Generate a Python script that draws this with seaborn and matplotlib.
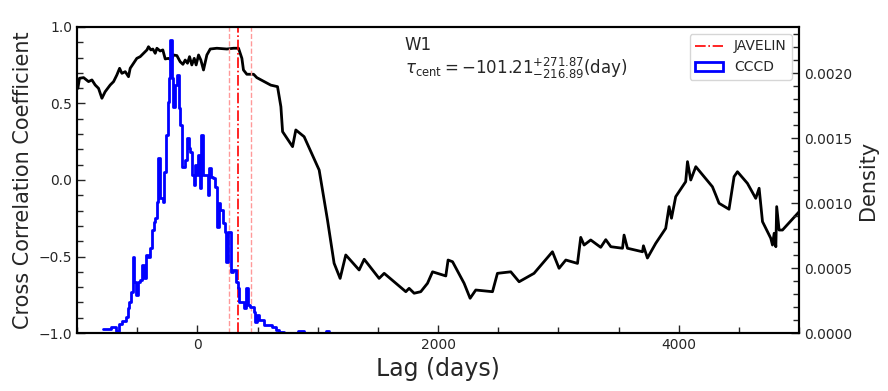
import numpy as np
import seaborn as sns
import matplotlib
matplotlib.use("Agg")
import matplotlib.pyplot as plt
from matplotlib.lines import Line2D
from matplotlib.patches import Patch
from matplotlib.ticker import MultipleLocator

# CCF curve (lag in days, correlation coefficient)
lag = [-1000, -993, -979, -945, -904, -876, -849, -821, -793, -766,
       -724, -696, -669, -646, -627, -599, -572, -558, -530, -503,
       -475, -447, -419, -406, -386, -370, -350, -336, -309, -287,
       -267, -239, -217, -198, -170, -143, -120, -101, -82, -65,
       -46, -26, -10, 10, 29, 51, 79, 107, 162, 245,
       300, 342, 370, 383, 411, 467, 494,
       610, 666, 694,
       708, 791, 818, 887, 1012, 1081, 1136, 1186, 1233, 1344,
       1386, 1510, 1552, 1732, 1759, 1801, 1856, 1912, 1954, 2064,
       2083, 2120, 2216, 2266, 2313, 2452, 2493, 2604, 2673, 2797,
       2950, 3005, 3061, 3158, 3185, 3213, 3268, 3351, 3393, 3435,
       3532, 3545, 3573, 3698, 3706, 3739, 3808, 3891, 3919, 3939,
       3974, 4057, 4072, 4099, 4141, 4279, 4307, 4334, 4417, 4459,
       4487, 4570, 4639, 4667, 4695, 4764, 4778, 4792, 4806, 4813,
       4833, 4861, 5000]
ccf = [0.62, 0.599, 0.665, 0.669, 0.643, 0.654, 0.621, 0.599, 0.534, 0.577,
       0.621, 0.643, 0.686, 0.73, 0.697, 0.708, 0.675, 0.73, 0.763, 0.795,
       0.806, 0.828, 0.85, 0.871, 0.85, 0.856, 0.828, 0.861, 0.843, 0.85,
       0.791, 0.795, 0.784, 0.817, 0.813, 0.773, 0.756, 0.784, 0.763, 0.806,
       0.752, 0.795, 0.752, 0.817, 0.784, 0.719, 0.817, 0.856, 0.861, 0.856,
       0.861, 0.861, 0.795, 0.719, 0.691, 0.691, 0.669,
       0.62, 0.61, 0.479,
       0.316, 0.218, 0.327, 0.283, 0.065, -0.261, -0.544, -0.643, -0.49, -0.588,
       -0.518, -0.643, -0.61, -0.73, -0.708, -0.74, -0.73, -0.675, -0.6, -0.627,
       -0.523, -0.534, -0.675, -0.773, -0.719, -0.73, -0.61, -0.6, -0.665, -0.61,
       -0.469, -0.577, -0.523, -0.545, -0.375, -0.425, -0.392, -0.44, -0.39, -0.436,
       -0.446, -0.36, -0.446, -0.469, -0.43, -0.51, -0.414, -0.316, -0.174, -0.25,
       -0.109, -0.011, 0.12, 0.0, 0.087, -0.044, -0.098, -0.152, -0.191, 0.022,
       0.054, -0.022, -0.12, -0.054, -0.272, -0.381, -0.425, -0.348, -0.436, -0.174,
       -0.327, -0.327, -0.207]

# CCCD histogram (bin edges in days, density per bin)
cccd_edges = [-788, -718, -677, -649, -622, -594, -580, -566, -552, -538,
              -525, -511, -497, -475, -461, -447, -428, -414, -392, -378,
              -364, -350, -336, -325, -309, -289, -275, -262, -248, -237,
              -228, -214, -201, -187, -170, -156, -143, -129, -101, -87,
              -73, -60, -46, -32, -18, -4, 7, 18, 32, 46,
              87, 98, 115, 134, 148, 162, 176, 190, 212, 231,
              242, 256, 278, 300, 320, 334, 350, 384, 403, 417,
              439, 467, 480, 494, 514, 527, 555, 583, 624, 652,
              680, 721, 832, 887, 1067, 1095]
cccd_density = [3.1e-5, 4.9e-5, 1.5e-5, 6.7e-5, 9.2e-5, 1.26e-4, 1.9e-4, 2.41e-4, 3.18e-4, 5.87e-4,
                3.95e-4, 2.92e-4, 3.95e-4, 4.08e-4, 5.23e-4, 4.2e-4, 6.0e-4, 5.87e-4, 6.51e-4, 7.92e-4,
                8.56e-4, 8.82e-4, 1.01e-3, 1.343e-3, 1.036e-3, 1.01e-3, 1.24e-3, 1.523e-3, 1.779e-3, 1.958e-3,
                2.253e-3, 1.958e-3, 1.741e-3, 1.907e-3, 1.984e-3, 1.728e-3, 1.6e-3, 1.279e-3, 1.33e-3, 1.497e-3,
                1.42e-3, 1.394e-3, 1.215e-3, 1.138e-3, 1.292e-3, 1.215e-3, 1.369e-3, 1.113e-3, 1.523e-3, 1.215e-3,
                1.061e-3, 1.267e-3, 1.202e-3, 1.19e-3, 1.125e-3, 8.17e-4, 9.97e-4, 9.46e-4, 8.43e-4, 7.79e-4,
                5.48e-4, 7.79e-4, 4.71e-4, 4.84e-4, 3.95e-4, 3.44e-4, 2.41e-4, 1.9e-4, 3.44e-4, 2.15e-4,
                2.03e-4, 1.64e-4, 8.7e-5, 1.38e-4, 1.0e-4, 1.0e-4, 6.2e-5, 6.2e-5, 4.9e-5, 2.3e-5,
                1.0e-5, 0.0, 1.8e-5, 0.0, 1.8e-5]

# JAVELIN lag (median and bounds)
jav_med = 339
jav_lo = 264
jav_hi = 444

sns.set_style("white")
plt.rcParams["font.family"] = ["DejaVu Sans"]
plt.rcParams["mathtext.fontset"] = "dejavusans"

fig = plt.figure(figsize=(8.88, 3.91), dpi=100)
ax = fig.add_axes([0.0867, 0.1483, 0.8133, 0.7827])

sns.lineplot(x=lag, y=ccf, color="black", lw=2, ax=ax, estimator=None, sort=False)
ax.axvline(jav_med, color="red", ls="-.", lw=1.2)
ax.axvline(jav_lo, color="#ff9999", ls="--", lw=1)
ax.axvline(jav_hi, color="#ff9999", ls="--", lw=1)

ax.set_xlim(-1000, 5000)
ax.set_ylim(-1.0, 1.0)
ax.set_xlabel("Lag (days)", fontsize=17)
ax.set_ylabel("Cross Correlation Coefficient", fontsize=15)
ax.xaxis.set_major_locator(MultipleLocator(2000))
ax.xaxis.set_minor_locator(MultipleLocator(500))
ax.yaxis.set_major_locator(MultipleLocator(0.5))
ax.yaxis.set_minor_locator(MultipleLocator(0.1))
ax.tick_params(which="both", direction="in", labelsize=10, bottom=True, left=True)
ax.tick_params(which="major", length=6, width=1)
ax.tick_params(which="minor", length=4, width=1)

ax.text(0.454, 0.94, "W1", transform=ax.transAxes, fontsize=12, va="center")
ax.text(0.454, 0.865, r"$\tau_{\rm cent} = -101.21^{+271.87}_{-216.89}$(day)",
        transform=ax.transAxes, fontsize=12, va="center")

ax2 = ax.twinx()
centers = [(a + b) / 2 for a, b in zip(cccd_edges[:-1], cccd_edges[1:])]
sns.histplot(x=centers, weights=cccd_density, bins=cccd_edges, element="step",
             fill=False, color="blue", lw=2, ax=ax2)
ax2.set_ylim(0, 0.002354)
ax2.set_xlim(-1000, 5000)
ax2.set_ylabel("Density", fontsize=15)
ax2.yaxis.set_major_locator(MultipleLocator(0.0005))
ax2.yaxis.set_minor_locator(MultipleLocator(0.0001))
ax2.yaxis.set_major_formatter(plt.FormatStrFormatter("%.4f"))
ax2.tick_params(which="both", direction="in", labelsize=10, right=True)
ax2.tick_params(which="major", length=6, width=1)
ax2.tick_params(which="minor", length=4, width=1)

for a in (ax, ax2):
    for s in a.spines.values():
        s.set_linewidth(1.5)
        s.set_color("black")

handles = [Line2D([0], [0], color="red", ls="-.", lw=1.2),
           Patch(facecolor="none", edgecolor="blue", lw=2)]
ax2.legend(handles, ["JAVELIN", "CCCD"], loc="upper right", fontsize=10)

fig.savefig("out.png", dpi=100)
